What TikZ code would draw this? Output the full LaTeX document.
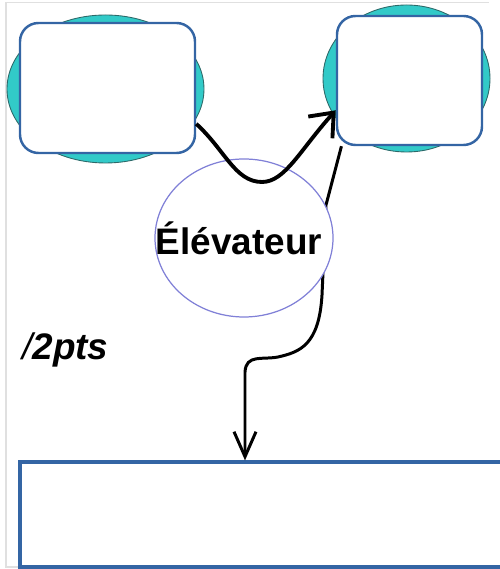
\documentclass[tikz,border=0pt]{standalone}
\usepackage{fontspec}
\setmainfont{Liberation Sans}
\usetikzlibrary{shapes.geometric,arrows.meta}

\definecolor{turquesa}{RGB}{50,202,200}
\definecolor{bordeturq}{RGB}{45,105,105}
\definecolor{azulcaja}{RGB}{52,101,164}
\definecolor{violeta}{RGB}{128,128,215}

\begin{document}
\begin{tikzpicture}[
    fondo/.style={ellipse, draw=bordeturq, line width=0.5pt, fill=turquesa},
    caja/.style={draw=azulcaja, line width=1.4pt, fill=white, rounded corners=0.37cm},
    flechauno/.style={line width=2.2pt, -{Straight Barb[length=4mm,width=6.5mm]}},
    flechados/.style={line width=1.7pt, -{Straight Barb[length=5mm,width=4.4mm]}}]

    % Fijamos el marco de la imagen
    \useasboundingbox (0,0) rectangle (10,11.38);
    \clip (0,0) rectangle (10,11.38);
    \draw[color=black!12, line width=0.6pt] (9.78,11.33) -- (0.12,11.33) -- (0.12,0.04) -- (0.4,0.04);

    % Fondos turquesa
    \node[fondo, minimum width=3.94cm, minimum height=2.96cm] (fondoizq) at (2.11,9.6) {};
    \node[fondo, minimum width=3.34cm, minimum height=2.94cm] (fondoder) at (8.13,9.81) {};

    % Cajas de arriba
    \node[caja, minimum width=3.5cm, minimum height=2.6cm] (izq) at (2.15,9.62) {};
    \node[caja, minimum width=2.9cm, minimum height=2.58cm] (der) at (8.19,9.77) {};

    % Caja de abajo
    \node[draw=azulcaja, line width=1.8pt, fill=white, minimum width=9.8cm, minimum height=2.1cm] (abajo) at (5.3,1.09) {};

    % Puntos
    \node[anchor=base west, inner sep=0pt] (puntos) at (0.44,4.18)
        {\fontsize{21}{24}\selectfont\itshape /\bfseries 2pts};

    % Flecha hacia la caja de abajo
    \coordinate (codo) at (4.9,3.94);
    \draw[flechados] (der.224) -- (6.52,7.28) -- (6.44,5.48)
        .. controls (6.38,4.48) and (6.0,4.34) .. (5.56,4.24)
        .. controls (5.24,4.18) and (4.92,4.3) .. (codo)
        -- (codo |- abajo.north);

    % Elevador
    \node[ellipse, draw=violeta, line width=0.7pt, fill=white, minimum width=3.56cm, minimum height=3.16cm,
        label={[name=elevtexto, xshift=-0.1cm]center:\fontsize{21}{25}\selectfont\bfseries Élévateur}] (elev) at (4.88,6.62) {};

    % Flecha entre las cajas de arriba
    \draw[flechauno] (izq.-22) .. controls (4.5,8.38) and (4.7,7.74) .. (5.24,7.74)
        .. controls (5.7,7.74) and (6.0,8.38) .. (der.202);

\end{tikzpicture}
\end{document}
